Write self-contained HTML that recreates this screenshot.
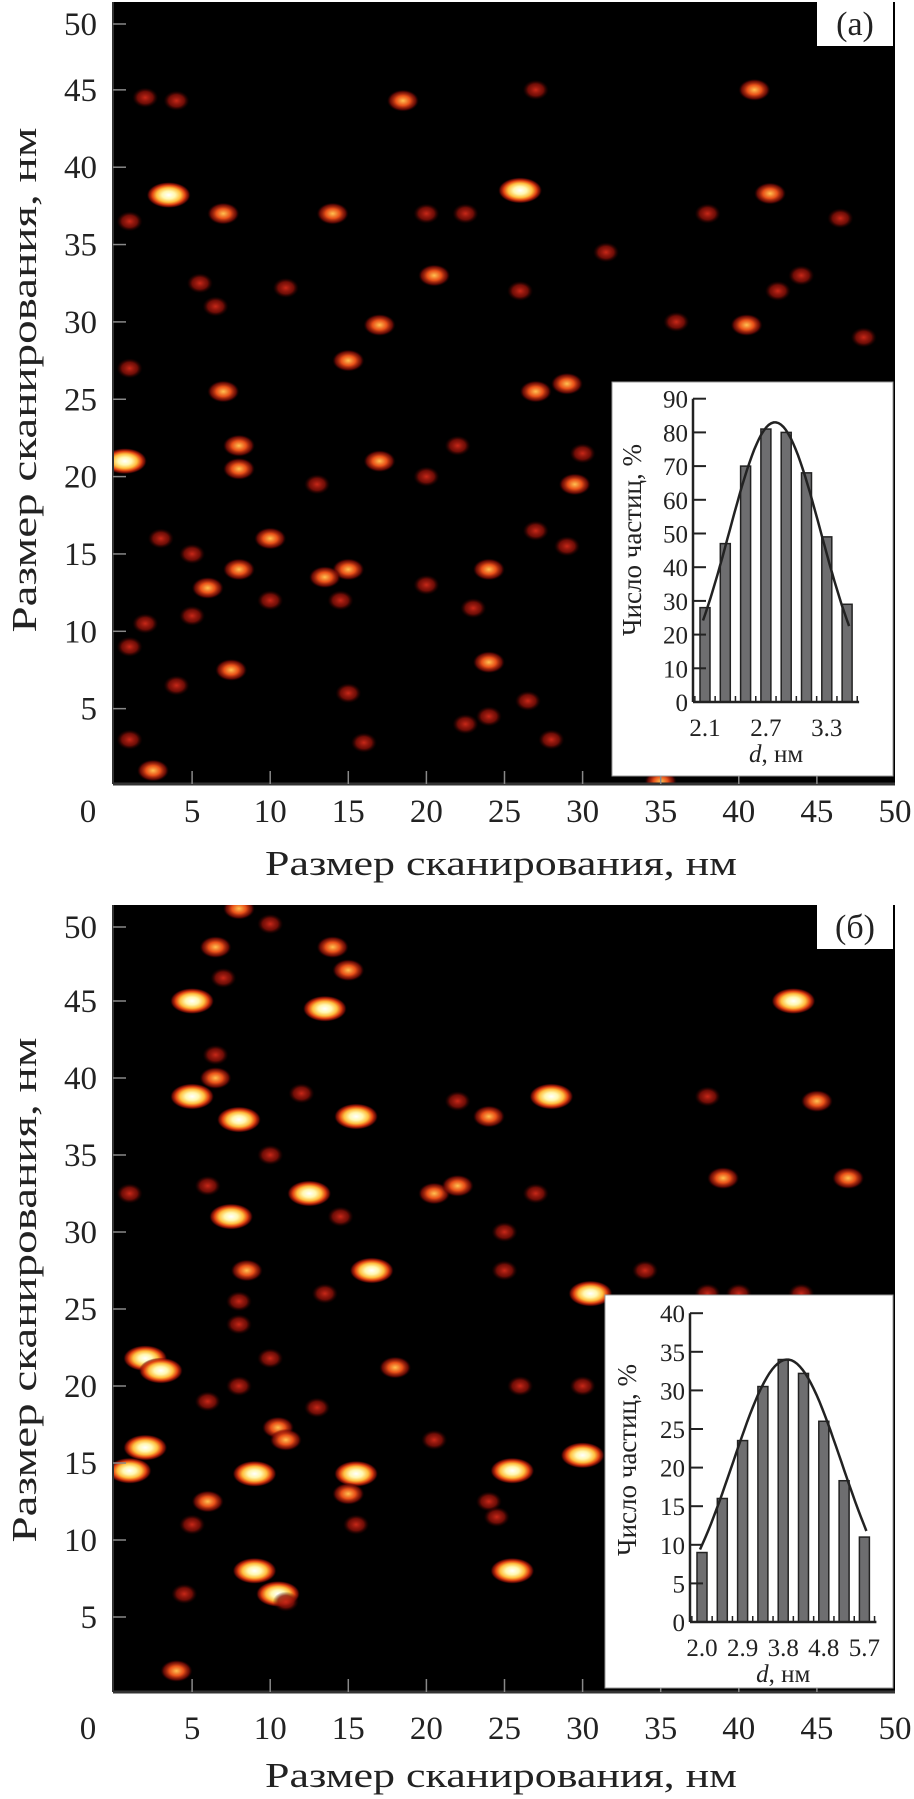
<!DOCTYPE html>
<html><head><meta charset="utf-8"><style>
html,body{margin:0;padding:0;background:#fff;width:914px;height:1799px;overflow:hidden}
svg{display:block}
text{font-family:"Liberation Serif",serif;fill:#222}
</style></head><body>
<svg id="fig" width="914" height="1799" viewBox="0 0 914 1799" xmlns="http://www.w3.org/2000/svg">
<defs>
<radialGradient id="g1"><stop offset="0" stop-color="#c82818"/><stop offset="0.6" stop-color="#8a1008" stop-opacity="0.8"/><stop offset="1" stop-color="#300000" stop-opacity="0"/></radialGradient>
<radialGradient id="g2"><stop offset="0" stop-color="#ffc050"/><stop offset="0.45" stop-color="#e85018"/><stop offset="0.8" stop-color="#901008" stop-opacity="0.7"/><stop offset="1" stop-color="#300000" stop-opacity="0"/></radialGradient>
<radialGradient id="g3"><stop offset="0" stop-color="#ffffff"/><stop offset="0.3" stop-color="#fff8b0"/><stop offset="0.55" stop-color="#ffc040"/><stop offset="0.75" stop-color="#e04010"/><stop offset="0.9" stop-color="#901008" stop-opacity="0.7"/><stop offset="1" stop-color="#300000" stop-opacity="0"/></radialGradient>
</defs>
</svg>
<script>
// ---------- data ----------
const topX=[2,4,3.5,7,14,18.5,27,41,26,42,1,20,22.5,38,46.5,5.5,6.5,11,20.5,26,17,36,40.5,44,42.5,48,1,7,15,27,29,33,0.7,8,8,20,17,22,30,13,3,5,10,6,8,15,13.5,14.5,20,23,24,29.5,27,29,2,5,10,24,7.5,1,4,15,22.5,24,26.5,1,2.5,16,28,35,31.5];
const topY=[44.5,44.3,38.2,37,37,44.3,45,45,38.5,38.3,36.5,37,37,37,36.7,32.5,31,32.2,33,32,29.8,30,29.8,33,32,29,27,25.5,27.5,25.5,26,25.5,21,22,20.5,20,21,22,21.5,19.5,16,15,16,12.8,14,14,13.5,12,13,11.5,14,19.5,16.5,15.5,10.5,11,12,8,7.5,9,6.5,6,4,4.5,5.5,3,1,2.8,3,0.3,34.5];
const topI=[1,1,3,2,2,2,1,2,3,2,1,1,1,1,1,1,1,1,2,1,2,1,2,1,1,1,1,2,2,2,2,1,3,2,2,1,2,1,1,1,1,1,2,2,2,2,2,1,1,1,2,2,1,1,1,1,1,2,2,1,1,1,1,1,1,1,2,1,1,2,1];
const botX=[5,6.5,8,10,14,15,13.5,7,6.5,6.5,5,8,15.5,12,22,24,28,10,1,6,7.5,12.5,14.5,20.5,22,27,8.5,8,8,16.5,13.5,25,25,30.5,34,38,2,3,6,8,10,18,13,10.5,11,20.5,26,30,2,9,1,15.5,15,6,5,15.5,24,24.5,25.5,30,9,10.5,11,4.5,25.5,4,43.5,45,39,47,38,40,44];
const botY=[45,48.5,51,50,48.5,47,44.5,46.5,41.5,40,38.8,37.3,37.5,39,38.5,37.5,38.8,35,32.5,33,31,32.5,31,32.5,33,32.5,27.5,25.5,24,27.5,26,30,27.5,26,27.5,26,21.8,21,19,20,21.8,21.2,18.6,17.3,16.5,16.5,20,20,16,14.3,14.5,14.3,13,12.5,11,11,12.5,11.5,14.5,15.5,8,6.5,6,6.5,8,1.5,45,38.5,33.5,33.5,38.8,26,26];
const botI=[3,2,2,1,2,2,3,1,1,2,3,3,3,1,1,2,3,1,1,1,3,3,1,2,2,1,2,1,1,3,1,1,1,3,1,1,3,3,1,1,1,2,1,2,2,1,1,1,3,3,3,3,2,2,1,1,1,1,3,3,3,3,1,1,3,2,3,2,2,2,1,1,1];
const xTicks=[0,5,10,15,20,25,30,35,40,45,50];
const yTicks=[5,10,15,20,25,30,35,40,45,50];
const histA=[28,47,70,81,80,68,49,29];
const histALabels=["2.1","","","2.7","","","3.3",""];
const histAYTicks=[0,10,20,30,40,50,60,70,80,90];
const curveA=[83,3.45,2.26];
const histB=[9,16,23.5,30.5,34,32.2,26,18.3,11];
const histBLabels=["2.0","","2.9","","3.8","","4.8","","5.7"];
const histBYTicks=[0,5,10,15,20,25,30,35,40];
const curveB=[34,4.2,2.68];

// ---------- helpers ----------
const svg=document.getElementById('fig');
const NS='http://www.w3.org/2000/svg';
function mk(tag,attrs,parent,txt){const e=document.createElementNS(NS,tag);for(const k in attrs)e.setAttribute(k,attrs[k]);if(txt!==undefined)e.textContent=txt;(parent||svg).appendChild(e);return e;}

function panel(cfg){
  const g=mk('g',{});
  
  
  const px=x=>114+x*15.62;
  const py=y=>cfg.y0-y*cfg.sy;
  const bg=mk('rect',{x:113,y:cfg.top,width:782,height:cfg.y0-2-cfg.top,fill:'#000'},g);
  
  
  const cg=mk('g',{'clip-path':'url(#'+cfg.clip+')'},g);
  const cp=mk('clipPath',{id:cfg.clip},svg.querySelector('defs'));
  mk('rect',{x:113,y:cfg.top,width:782,height:cfg.y0-2-cfg.top},cp);
  for(let i=0;i<cfg.X.length;i++){
    const k=cfg.I[i];
    const rx=k===3?22:(k===2?16:13), ry=k===3?13:(k===2?11:10);
    const e=mk('ellipse',{cx:px(cfg.X[i]),cy:py(cfg.Y[i]),rx:rx,ry:ry,fill:'url(#g'+k+')'},cg);
    
    
  }
  mk('line',{x1:113,y1:cfg.top,x2:113,y2:cfg.y0-2,stroke:'#333','stroke-width':2},g);
  mk('line',{x1:113,y1:cfg.y0-2,x2:895,y2:cfg.y0-2,stroke:'#333','stroke-width':3},g);
  xTicks.forEach(v=>{
    if(v>0&&v<50) mk('line',{x1:px(v),y1:cfg.y0-2,x2:px(v),y2:cfg.y0-15,stroke:'#888','stroke-width':1.5},g);
    const t=mk('text',{x:v===0?88:px(v),y:cfg.labY,'font-size':33,'text-anchor':'middle'},g,String(v));
    
    
  });
  yTicks.forEach(v=>{
    const y=Math.max(py(v),cfg.top+22);
    mk('line',{x1:113,y1:y,x2:126,y2:y,stroke:'#888','stroke-width':1.5},g);
    const t=mk('text',{x:97,y:y+11,'font-size':33,'text-anchor':'end'},g,String(v));
    
    
  });
  const xt=mk('text',{x:501,y:cfg.titleY,'font-size':35,'text-anchor':'middle',textLength:472,lengthAdjust:'spacingAndGlyphs'},g,'Размер сканирования, нм');
  
  
  const yt=mk('text',{x:0,y:0,'font-size':35,'text-anchor':'middle',textLength:505,lengthAdjust:'spacingAndGlyphs',transform:'translate(36,'+cfg.ytY+') rotate(-90)'},g,'Размер сканирования, нм');
  
  
  const lb=mk('rect',{x:817,y:cfg.top,width:76,height:44,fill:'#fff'},g);
  
  
  const lt=mk('text',{x:855,y:cfg.top+33,'font-size':34,'text-anchor':'middle'},g,cfg.label);
  
  
}

function inset(cfg){
  const g=mk('g',{});
  
  
  const box=mk('rect',{x:cfg.bx,y:cfg.by,width:893-cfg.bx,height:cfg.bb-cfg.by,fill:'#fff',stroke:'#999','stroke-width':1},g);
  
  
  const n=cfg.vals.length;
  const bx=i=>cfg.ax+12+i*cfg.pitch;
  const by=v=>cfg.zeroY-v*cfg.sy;
  const xEnd=cfg.ax+12+(n-1)*cfg.pitch+12;
  cfg.vals.forEach((v,i)=>{
    const r=mk('rect',{x:bx(i)-5,y:by(v),width:10,height:cfg.zeroY-by(v),fill:'#6e6e70',stroke:'#222','stroke-width':1.5},g);
    
    
    if(cfg.labels[i]){
      const t=mk('text',{x:bx(i),y:cfg.zeroY+34,'font-size':25,'text-anchor':'middle'},g,cfg.labels[i]);
      
      
    }
  });
  for(let i=0;i<=n;i++){const x=bx(i)-cfg.pitch/2;mk('line',{x1:x,y1:cfg.zeroY,x2:x,y2:cfg.zeroY-6,stroke:'#222','stroke-width':1.5},g);}
  mk('line',{x1:cfg.ax,y1:by(cfg.yt[cfg.yt.length-1]),x2:cfg.ax,y2:cfg.zeroY,stroke:'#222','stroke-width':2.5},g);
  mk('line',{x1:cfg.ax,y1:cfg.zeroY,x2:xEnd,y2:cfg.zeroY,stroke:'#222','stroke-width':2.5},g);
  cfg.yt.forEach(v=>{
    mk('line',{x1:cfg.ax,y1:by(v),x2:cfg.ax+13,y2:by(v),stroke:'#222','stroke-width':2},g);
    const t=mk('text',{x:cfg.ax-5,y:by(v)+9,'font-size':25,'text-anchor':'end'},g,String(v));
    
    
  });
  let d='';
  const [A,mu,s]=cfg.curve;
  for(let k=0;k<=60;k++){
    const t=-0.1+(n-1+0.2)*k/60;
    const v=A*Math.exp(-((t-mu)*(t-mu))/(2*s*s));
    d+=(k?'L':'M')+bx(t).toFixed(1)+','+by(v).toFixed(1);
  }
  const c=mk('path',{d:d,fill:'none',stroke:'#222','stroke-width':2.5},g);
  
  
  const xl=mk('text',{x:(cfg.ax+xEnd)/2,y:cfg.zeroY+60,'font-size':25,'text-anchor':'middle'},g);
  mk('tspan',{'font-style':'italic'},xl,'d');
  mk('tspan',{},xl,', нм');
  
  
  const yl=mk('text',{x:0,y:0,'font-size':27,'text-anchor':'middle',transform:'translate('+cfg.ytx+','+cfg.yty+') rotate(-90)'},g,'Число частиц, %');
  
  
}

panel({name:'panel-a',top:2,y0:786,sy:15.47,labY:822,titleY:875,ytY:380,label:'(a)',clip:'ca',X:topX,Y:topY,I:topI});
panel({name:'panel-b',top:905,y0:1694,sy:15.4,labY:1739,titleY:1787,ytY:1290,label:'(б)',clip:'cb',X:botX,Y:botY,I:botI});
inset({name:'inset-histogram-a',bx:612,by:382,bb:776,ax:693,zeroY:702,sy:3.37,pitch:20.3,vals:histA,labels:histALabels,yt:histAYTicks,curve:curveA,ytx:641,yty:540});
inset({name:'inset-histogram-b',bx:605,by:1295,bb:1688,ax:690,zeroY:1622,sy:7.72,pitch:20.3,vals:histB,labels:histBLabels,yt:histBYTicks,curve:curveB,ytx:636,yty:1460});
</script>
</body></html>
